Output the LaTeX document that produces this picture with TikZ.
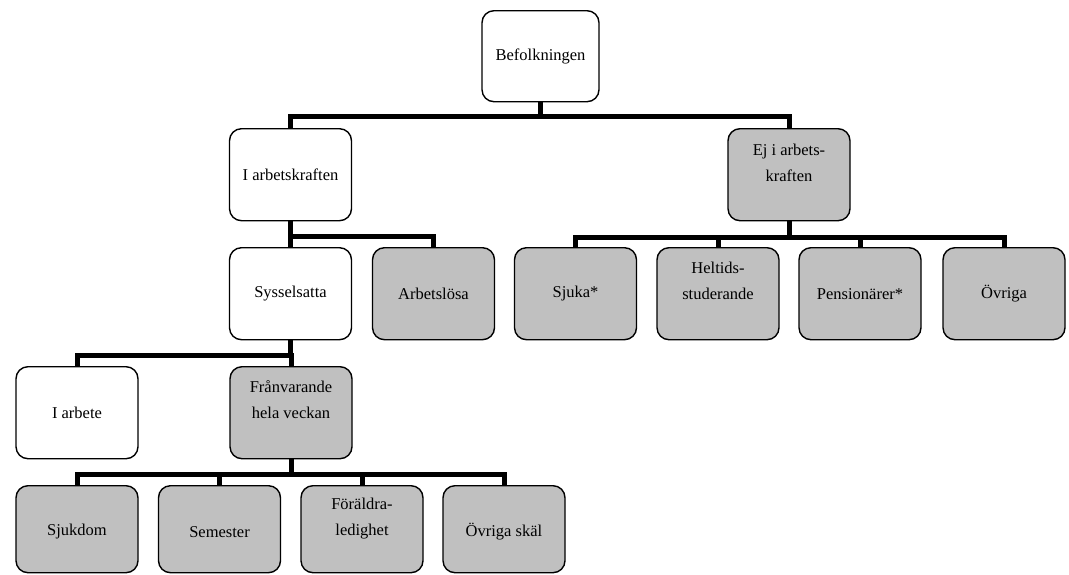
\documentclass[tikz,border=0pt]{standalone}
\usepackage{fontspec}
\setmainfont{Liberation Serif}
\begin{document}
\begin{tikzpicture}[x=1pt,y=-1pt,
  box/.style={draw=black,line width=1.4pt,rounded corners=12pt,minimum width=122pt,minimum height=92pt,inner sep=0pt,anchor=north,fill=white},
  gbox/.style={box,fill=boxgray},
  txt/.style={align=center,font=\fontsize{16.5}{26}\selectfont,inner sep=0pt},
  conn/.style={line width=5pt,line join=miter}]
\definecolor{boxgray}{HTML}{C0C0C0}
\useasboundingbox (0,0) rectangle (1069,574);
% nodes
\node[box,minimum width=117pt,minimum height=91pt] (root) at (540.5,10) {};
\node[box] (ia) at (290.5,128) {};
\node[gbox] (ej) at (789,128) {};
\node[box] (sys) at (290.5,247) {};
\node[gbox] (arb) at (433.5,247) {};
\node[gbox] (sj) at (575.5,247) {};
\node[gbox] (hel) at (718,247) {};
\node[gbox] (pen) at (860,247) {};
\node[gbox] (ovr) at (1004,247) {};
\node[box] (iarb) at (77,366) {};
\node[gbox] (fran) at (291,366) {};
\node[gbox,minimum height=87pt] (sjd) at (77,485) {};
\node[gbox,minimum height=87pt] (sem) at (219.5,485) {};
\node[gbox,minimum height=87pt] (for) at (362,485) {};
\node[gbox,minimum height=87pt] (ovs) at (504,485) {};
% connectors
\draw[conn] (root.south) -- ++(0,14.5) -| (ia.north);
\draw[conn] (root.south) -- ++(0,14.5) -| (ej.north);
\draw[conn] (ia.south) -- ++(0,15) -| (sys.north);
\draw[conn] (ia.south) -- ++(0,15) -| (arb.north);
\foreach \c in {sj,hel,pen,ovr} \draw[conn] (ej.south) -- ++(0,16) -| (\c.north);
\draw[conn] (sys.south) -- ++(0,15) -| (iarb.north);
\draw[conn] (sys.south) -- ++(0,15) -| (fran.north);
\foreach \c in {sjd,sem,for,ovs} \draw[conn] (fran.south) -- ++(0,15) -| (\c.north);
% texts
\node[txt] (t-root) at (root.center) {Befolkningen};
\node[txt] (t-ia) at (ia.center) {I arbetskraften};
\node[txt] (t-ej) at ([yshift=12pt]ej.center) {Ej i arbets-\\kraften};
\node[txt] (t-sys) at (sys.center) {Sysselsatta};
\node[txt] (t-arb) at (arb.center) {Arbetslösa};
\node[txt] (t-sj) at (sj.center) {Sjuka*};
\node[txt] (t-hel) at ([yshift=12.5pt]hel.center) {Heltids-\\studerande};
\node[txt] (t-pen) at (pen.center) {Pensionärer*};
\node[txt] (t-ovr) at (ovr.center) {Övriga};
\node[txt] (t-iarb) at (iarb.center) {I arbete};
\node[txt] (t-fran) at ([yshift=13pt]fran.center) {Frånvarande\\hela veckan};
\node[txt] (t-sjd) at ([yshift=-2.5pt]sjd.center) {Sjukdom};
\node[txt] (t-sem) at ([yshift=-2.5pt]sem.center) {Semester};
\node[txt] (t-for) at ([yshift=11pt]for.center) {Föräldra-\\ledighet};
\node[txt] (t-ovs) at ([yshift=-2.5pt]ovs.center) {Övriga skäl};
\end{tikzpicture}
\end{document}
